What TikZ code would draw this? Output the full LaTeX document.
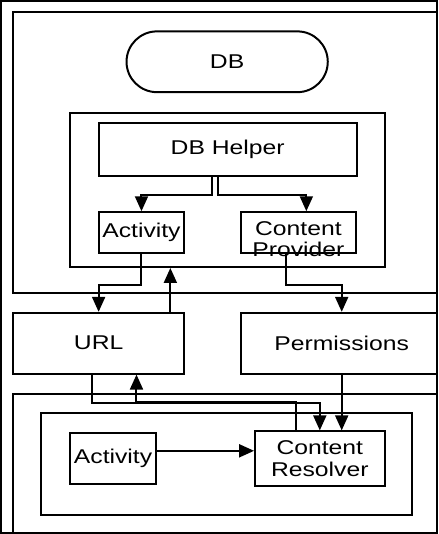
\documentclass[tikz,border=0pt]{standalone}
\usepackage{fontspec}
\setmainfont{Liberation Sans}[FakeStretch=1.24]
\usetikzlibrary{arrows.meta,shapes.misc}

\begin{document}
\begin{tikzpicture}[x=1pt,y=-1pt,line width=2pt,>={Triangle[length=15pt,width=13pt]}]
    \tikzstyle{every node}=[draw,shape=rectangle,inner sep=0pt,align=center,font=\fontsize{20}{22}\selectfont];
    \tikzstyle{every path}=[draw];
    \useasboundingbox (0,0) rectangle (438,534);
    \clip (0,0) rectangle (438,534);
    % frames
    \node at (241, 152)   (topframe)    [minimum width=458pt,minimum height=282pt] {};
    \node at (241, 482)   (bottomframe) [minimum width=458pt,minimum height=176pt] {};
    \node at (227, 189.5) (helperframe) [minimum width=316pt,minimum height=155pt] {};
    \node at (226.5, 465) (innerframe)  [minimum width=373pt,minimum height=102pt] {};
    % boxes
    \node at (227, 61)    (db)       [shape=rounded rectangle,minimum width=202pt,minimum height=61pt] {DB};
    \node at (227.5, 149) (dbhelper) [minimum width=259pt,minimum height=54pt] {DB Helper};
    \node at (141, 232.5) (act1)     [minimum width=86pt,minimum height=41pt] {Activity};
    \node at (298.5, 232.5) (cprov)  [minimum width=115pt,minimum height=41pt] {};
    \node at (298.5, 239) (cprovtext) [draw=none] {Content\\Provider};
    \node at (98, 343.5)  (url)      [minimum width=172pt,minimum height=61pt] {URL};
    \node at (342, 343.5) (perm)     [minimum width=202pt,minimum height=61pt] {Permissions};
    \node at (112.5, 459.5) (act2)   [minimum width=87pt,minimum height=51pt] {Activity};
    \node at (320, 459.5) (cres)     [minimum width=130pt,minimum height=55pt] {Content\\Resolver};

    \draw[->] ([xshift=-16pt]dbhelper.south) -- ++(0,18) -| (act1.north);
    \draw[->] ([xshift=-10pt]dbhelper.south) -- ++(0,18) -| ([xshift=8pt]cprov.north);
    \draw[->] (act1.south) -- ++(0,31) -| (url.north);
    \draw[->] ([xshift=72pt]url.north) -- ([xshift=72pt]url.north |- helperframe.south);
    \draw[->] ([xshift=-12pt]cprov.south) -- ++(0,31) -| (perm.north);
    \draw[->] ([xshift=-7pt]url.south) -- ++(0,29) -| (cres.north);
    \draw[->] ([xshift=-24pt]cres.north) -- ++(0,-29) -| ([xshift=38pt]url.south);
    \draw[->] (perm.south) -- (perm.south |- cres.north);
    \draw[->] ([yshift=8pt]act2.east) -- ([yshift=8pt]act2.east -| cres.west);
\end{tikzpicture}
\end{document}
